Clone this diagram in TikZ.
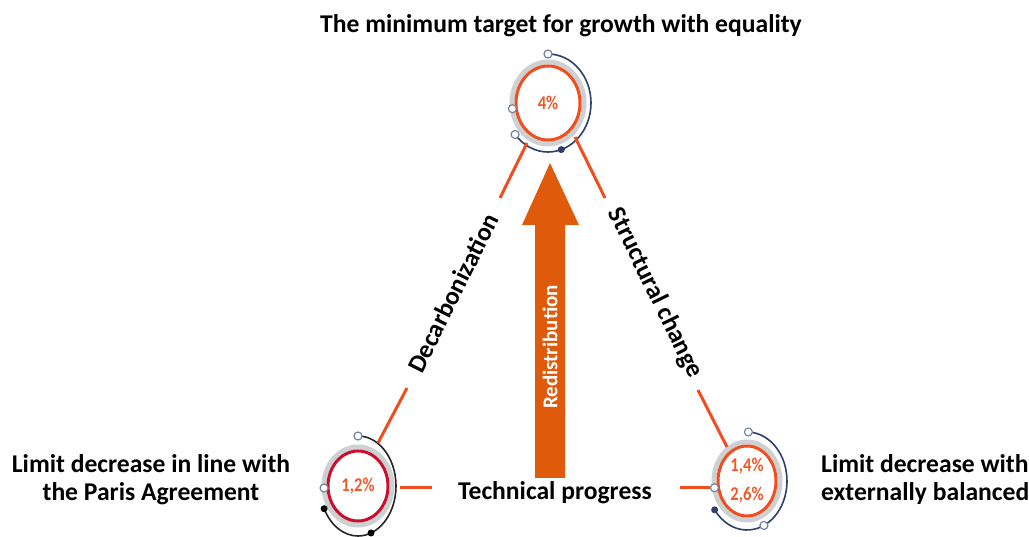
\documentclass[tikz,border=0pt]{standalone}
\usepackage{fontspec}
\setmainfont{Carlito}
\usetikzlibrary{calc}
\definecolor{redline}{HTML}{F04E1E}
\definecolor{crimson}{HTML}{C8102E}
\definecolor{ringgray}{HTML}{CDD1D1}
\definecolor{navy}{HTML}{2E3F6E}
\definecolor{dotblue}{HTML}{7482AA}
\definecolor{arroworange}{HTML}{E05A0C}
\definecolor{pcttext}{HTML}{F05A28}
\newcommand{\narrowtxt}[1]{\scalebox{0.85}[1]{#1}}
\tikzset{
  lbl/.style={font=\fontsize{25.6}{28}\selectfont\bfseries, text=black, inner sep=0pt},
  pct/.style={font=\fontsize{19.5}{21}\selectfont\bfseries, text=pcttext, inner sep=0pt},
  segment/.style={draw=redline, line width=3pt},
  ring/.style={draw=ringgray, line width=5pt},
  opendot/.style={circle, draw=dotblue, fill=white, line width=1.2pt, minimum size=8pt, inner sep=0pt},
  filldot/.style={circle, fill=#1, minimum size=7pt, inner sep=0pt},
  orbit/.style={draw=#1, line width=1.6pt}
}
\begin{document}
\begin{tikzpicture}[x=1pt,y=1pt]
\useasboundingbox (0,0) rectangle (1029,536);

% ---------- top circle ----------
\coordinate (T) at (548,433);
\draw[ring] (T) ellipse[x radius=36, y radius=41];
\draw[draw=redline, line width=3pt] (T) ellipse[x radius=32, y radius=37];
\draw[orbit=navy] ($(T)+(90:43 and 49)$) arc[start angle=90, end angle=-140, x radius=43, y radius=49];
\node[opendot] (t1) at ($(T)+(90:43 and 49)$) {};
\node[opendot] (t2) at ($(T)+(-140:43 and 49)$) {};
\node[filldot=navy] (t3) at ($(T)+(-72:43 and 49)$) {};
\node[opendot] (t4) at ($(T)+(188:36 and 41)$) {};
\node[pct] (p4) at (T) {\narrowtxt{4\%}};

% ---------- bottom-left circle ----------
\coordinate (L) at (358,50);
\draw[ring] (L) ellipse[x radius=34, y radius=39];
\draw[draw=crimson, line width=3pt] (L) ellipse[x radius=30, y radius=35];
\draw[orbit=black!85] ($(L)+(90:38 and 50)$) arc[start angle=90, end angle=-153, x radius=38, y radius=50];
\node[opendot] (l1) at ($(L)+(90:38 and 50)$) {};
\node[filldot=black] (l2) at ($(L)+(-70:38 and 50)$) {};
\node[filldot=black] (l3) at ($(L)+(-153:38 and 50)$) {};
\node[opendot] (l4) at ($(L)+(183:34 and 39)$) {};
\node[pct] (p12) at (L) {\narrowtxt{1,2\%}};

% ---------- bottom-right circle ----------
\coordinate (R) at (747,55);
\draw[ring] (R) ellipse[x radius=33, y radius=39];
\draw[draw=redline, line width=3pt] (R) ellipse[x radius=29, y radius=35];
\draw[orbit=navy] ($(R)+(88:40 and 49)$) arc[start angle=88, end angle=-144, x radius=40, y radius=49];
\node[opendot] (r1) at ($(R)+(88:40 and 49)$) {};
\node[opendot] (r2) at ($(R)+(-65:40 and 49)$) {};
\node[filldot=navy] (r3) at ($(R)+(-144:40 and 49)$) {};
\node[opendot] (r4) at ($(R)+(190:33 and 39)$) {};
\node[pct] (p14) at ($(R)+(0,15)$) {\narrowtxt{1,4\%}};
\node[pct] (p26) at ($(R)+(0,-14)$) {\narrowtxt{2,6\%}};

% ---------- triangle segments ----------
\coordinate (lu1) at (527,393); \coordinate (lu2) at (500,338);
\coordinate (ll1) at (407,148); \coordinate (ll2) at (378,93);
\coordinate (ru1) at (575,399); \coordinate (ru2) at (605,338);
\coordinate (rl1) at (698,146); \coordinate (rl2) at (727,89);
\coordinate (bl1) at (400,48);  \coordinate (bl2) at (432,48);
\coordinate (br1) at (680,48);  \coordinate (br2) at (710,48);
\draw[segment] (lu1) -- (lu2);
\draw[segment] (ll1) -- (ll2);
\draw[segment] (ru1) -- (ru2);
\draw[segment] (rl1) -- (rl2);
\draw[segment] (bl1) -- (bl2);
\draw[segment] (br1) -- (br2);

\node[lbl, rotate=63.6] (decarb) at (453,243) {Decarbonization};
\node[lbl, rotate=-63.9] (struct) at (655,243) {Structural change};
\node[lbl] (tech) at (555,43) {Technical progress};

% ---------- big arrow ----------
\fill[arroworange] (535,58) -- (565,58) -- (565,311) -- (579,311) -- (550,373) -- (522,311) -- (535,311) -- cycle;
\node[font=\fontsize{21}{23}\selectfont\bfseries, text=white, rotate=90, inner sep=0pt] (redis) at (550,189) {Redistribution};

% ---------- outer labels ----------
\node[lbl] (title) at (561,510) {The minimum target for growth with equality};
\node[lbl, align=center] (paris) at (151,56) {Limit decrease in line with\\the Paris Agreement};
\node[lbl, align=left, anchor=west] (ext) at (821,56) {Limit decrease with\\externally balanced};
\end{tikzpicture}
\end{document}
